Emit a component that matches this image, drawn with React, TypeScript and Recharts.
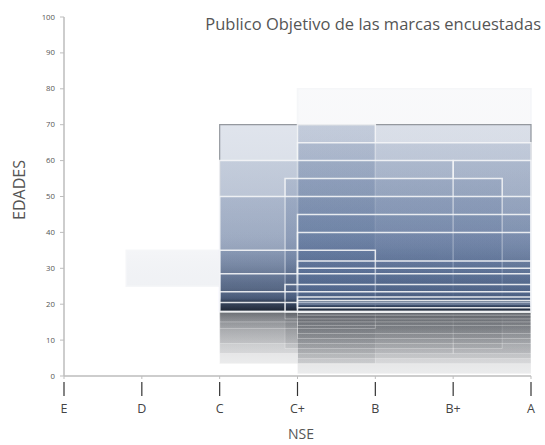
import React from 'react';
import { ComposedChart, XAxis, YAxis, ReferenceArea } from 'recharts';

// Categories (NSE) and tick values
const nseLabels = ['E', 'D', 'C', 'C+', 'B', 'B+', 'A'];
const nseTicks = [0, 1, 2, 3, 4, 5, 6];
const ageTicks = [0, 10, 20, 30, 40, 50, 60, 70, 80, 90, 100];

// Each brand's target audience: NSE range (index into nseLabels) and age range
const nseFrom = [0.8, 3, 2, 3, 3, 5, 2, 2.84, 2, 3, 3, 2, 3, 3, 2, 2.84, 2, 3, 3];
const nseTo = [4.8, 6, 6, 4, 6, 6, 5, 5.63, 6, 6, 6, 4, 6, 6, 6, 6, 6, 6, 6];
const ageFrom = [25, 18, 18, 18, 18, 18, 18, 18, 18, 18, 18, 18, 18, 20, 18, 18, 20.5, 18, 19];
const ageTo = [35, 80, 70, 70, 65, 60, 60, 55, 50, 45, 40, 35, 32, 30, 28.5, 25.5, 23.5, 22, 21];

const W = 545;
const H = 445;
const REFLECT = 0.28;
const FAINT = new Set([0, 1]);
const FONT = '"Open Sans", "Noto Sans", sans-serif';

const XTick = (props: any) => {
  const { x, y, payload } = props;
  return (
    <g>
      <line x1={x} x2={x} y1={y + 3} y2={y + 17} stroke="#333" strokeWidth={1.2} />
      <text x={x} y={y + 34} textAnchor="middle" fontSize={12.5} fill="#444" fontFamily={FONT}>
        {nseLabels[payload.value]}
      </text>
    </g>
  );
};

const YTick = (props: any) => {
  const { x, y, payload } = props;
  return (
    <text x={x} y={y + 2.5} textAnchor="end" fontSize={7.8} fill="#555" fontFamily={FONT}>
      {payload.value}
    </text>
  );
};

export default function App() {
  const idx = nseFrom.map((_, i) => i);
  return (
    <div style={{ position: 'absolute', left: 0, top: 0, width: W, height: H, background: '#fff' }}>
      <ComposedChart
        width={W}
        height={H}
        data={[{ nse: 0, age: 0 }]}
        margin={{ top: 17, right: 14, left: 4, bottom: 39 }}
      >
        <defs>
          <linearGradient id="mainGrad" x1="0" y1="0" x2="0" y2="1">
            <stop offset="0" stopColor="#6a80a6" stopOpacity={0.21} />
            <stop offset="0.6" stopColor="#536a92" stopOpacity={0.26} />
            <stop offset="1" stopColor="#18202e" stopOpacity={0.52} />
          </linearGradient>
          <linearGradient id="faintGrad" x1="0" y1="0" x2="0" y2="1">
            <stop offset="0" stopColor="#f3f4f7" stopOpacity={0.9} />
            <stop offset="1" stopColor="#e6e9ee" stopOpacity={0.6} />
          </linearGradient>
          <linearGradient id="reflGrad" x1="0" y1="0" x2="0" y2="1">
            <stop offset="0" stopColor="#4a4e55" stopOpacity={0.3} />
            <stop offset="1" stopColor="#8a8d92" stopOpacity={0.17} />
          </linearGradient>
        </defs>
        <XAxis
          type="number"
          dataKey="nse"
          domain={[0, 6]}
          ticks={nseTicks}
          allowDataOverflow
          height={30}
          tickSize={3}
          tickMargin={0}
          axisLine={{ stroke: '#bdbdbd', strokeWidth: 1.5 }}
          tickLine={{ stroke: '#bdbdbd' }}
          tick={<XTick />}
        />
        <YAxis
          type="number"
          dataKey="age"
          domain={[0, 100]}
          ticks={ageTicks}
          allowDataOverflow
          width={60}
          tickSize={4}
          tickMargin={5}
          axisLine={{ stroke: '#bdbdbd', strokeWidth: 1.5 }}
          tickLine={{ stroke: '#bdbdbd' }}
          tick={<YTick />}
        />
        {idx.map((i) =>
          i === 0 ? null : (
            <ReferenceArea
              key={'r' + i}
              x1={nseFrom[i]}
              x2={nseTo[i]}
              y1={ageFrom[i] - (ageTo[i] - ageFrom[i]) * REFLECT}
              y2={ageFrom[i]}
              fill="url(#reflGrad)"
              fillOpacity={1}
              stroke="#ffffff"
              strokeOpacity={0.3}
              strokeWidth={1}
              ifOverflow="visible"
            />
          )
        )}
        {idx.map((i) => (
          <ReferenceArea
            key={'m' + i}
            x1={nseFrom[i]}
            x2={nseTo[i]}
            y1={ageFrom[i]}
            y2={ageTo[i]}
            fill={FAINT.has(i) ? 'url(#faintGrad)' : 'url(#mainGrad)'}
            fillOpacity={i === 1 ? 0.6 : 1}
            stroke={i === 2 ? '#8a8e95' : '#f4f5f7'}
            strokeOpacity={0.9}
            strokeWidth={i === 2 ? 1.2 : 1.5}
            ifOverflow="visible"
          />
        ))}
      </ComposedChart>
      <svg
        width={W}
        height={H}
        style={{ position: 'absolute', left: 0, top: 0, pointerEvents: 'none' }}
      >
        <text x={541} y={30} textAnchor="end" fontSize={16.5} fill="#555" fontFamily={FONT}>
          Publico Objetivo de las marcas encuestadas
        </text>
        <text
          transform="translate(25,190) rotate(-90)"
          textAnchor="middle"
          fontSize={16}
          fill="#555"
          fontFamily={FONT}
        >
          EDADES
        </text>
        <text x={301} y={439} textAnchor="middle" fontSize={14} fill="#555" fontFamily={FONT}>
          NSE
        </text>
      </svg>
    </div>
  );
}
